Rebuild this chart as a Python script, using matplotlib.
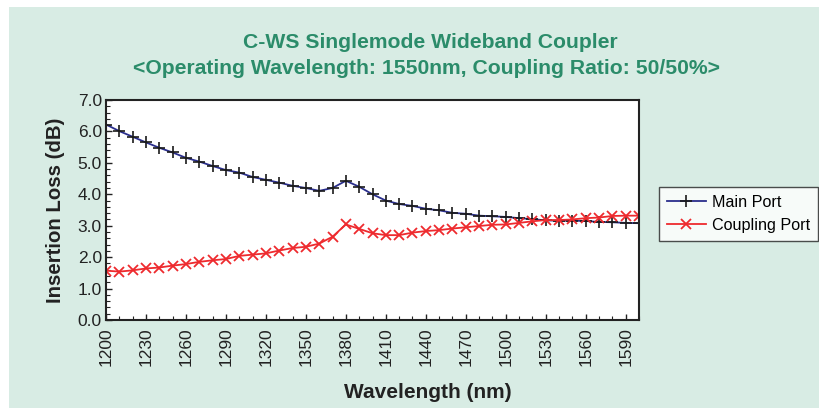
import matplotlib.pyplot as plt
import numpy as np
from matplotlib.patches import Rectangle
from matplotlib.ticker import MultipleLocator, FormatStrFormatter

plt.rcParams['font.family'] = ['Liberation Sans', 'DejaVu Sans']

wavelength = np.arange(1200, 1601, 10)

# Main Port insertion loss (dB)
main_port = [6.22, 6.01, 5.83, 5.65, 5.48, 5.33, 5.16, 5.04, 4.90, 4.77,
             4.69, 4.55, 4.46, 4.37, 4.27, 4.20, 4.11, 4.20, 4.43, 4.24,
             4.00, 3.80, 3.69, 3.63, 3.54, 3.49, 3.41, 3.38, 3.32, 3.30,
             3.28, 3.24, 3.21, 3.17, 3.16, 3.16, 3.15, 3.12, 3.11, 3.09,
             3.08]

# Coupling Port insertion loss (dB)
coupling_port = [1.57, 1.54, 1.58, 1.64, 1.67, 1.73, 1.78, 1.85, 1.90, 1.94,
                 2.04, 2.08, 2.12, 2.21, 2.29, 2.33, 2.43, 2.65, 3.04, 2.90,
                 2.76, 2.70, 2.70, 2.78, 2.83, 2.86, 2.91, 2.95, 2.99, 3.03,
                 3.04, 3.09, 3.14, 3.18, 3.18, 3.20, 3.24, 3.26, 3.31, 3.32,
                 3.32]

x_ticks = np.arange(1200, 1600, 30)

bg = '#d8ece4'
title_green = '#2b8c6a'

fig = plt.figure(figsize=(8.2, 4.08), dpi=100)
fig.patch.set_facecolor('white')
fig.patches.append(Rectangle((9 / 820, 0), 1, 1 - 7 / 408, transform=fig.transFigure,
                             facecolor=bg, edgecolor='none', zorder=-10))

ax = fig.add_axes([106 / 820, 1 - 320 / 408, 533 / 820, 220 / 408])
ax.set_facecolor('white')

ax.plot(wavelength, main_port, color='#2a2e8c', lw=1.3, marker='+', ms=8,
        mec='#1a1a1a', mew=1.2, label='Main Port')
ax.plot(wavelength, coupling_port, color='#ee2a2e', lw=1.3, marker='x', ms=7,
        mec='#ee2a2e', mew=1.3, label='Coupling Port')

ax.set_xlim(1200, 1600)
ax.set_ylim(0, 7)
ax.set_xticks(x_ticks)
ax.xaxis.set_minor_locator(MultipleLocator(10))
ax.yaxis.set_major_locator(MultipleLocator(1))
ax.yaxis.set_minor_locator(MultipleLocator(0.2))
ax.yaxis.set_major_formatter(FormatStrFormatter('%.1f'))
ax.tick_params(axis='both', which='both', direction='in', color='#222222')
ax.tick_params(axis='both', which='major', length=4, width=1, labelsize=12.5, labelcolor='#222222')
ax.tick_params(axis='both', which='minor', length=3, width=0.8)
ax.tick_params(axis='x', which='major', labelrotation=90, pad=5)
ax.tick_params(axis='y', which='major', pad=3)
for s in ax.spines.values():
    s.set_linewidth(1.5)
    s.set_color('#222222')

# x label sits off-centre (right of axes centre) in the original
fig.text(428 / 820, 1 - 393 / 408, 'Wavelength (nm)', ha='center', va='center',
         fontsize=15, fontweight='bold', color='#222222')
ax.set_ylabel('Insertion Loss (dB)', fontsize=14.7, fontweight='bold', color='#222222', labelpad=9)

fig.text(430 / 820, 1 - 42 / 408, 'C-WS Singlemode Wideband Coupler', ha='center', va='center',
         fontsize=15.2, fontweight='bold', color=title_green)
fig.text(427 / 820, 1 - 68 / 408, '<Operating Wavelength: 1550nm, Coupling Ratio: 50/50%>',
         ha='center', va='center', fontsize=15.2, fontweight='bold', color=title_green)

leg = ax.legend(loc='upper left', bbox_to_anchor=(659 / 820, 1 - 187 / 408),
                bbox_transform=fig.transFigure, fontsize=11.6, frameon=True, fancybox=False,
                borderpad=0.5, handlelength=2.4, handletextpad=0.4, labelspacing=0.5,
                borderaxespad=0)
leg.get_frame().set_edgecolor('#222222')
leg.get_frame().set_linewidth(1.0)

fig.savefig('out.png', dpi=100, facecolor=fig.get_facecolor())
